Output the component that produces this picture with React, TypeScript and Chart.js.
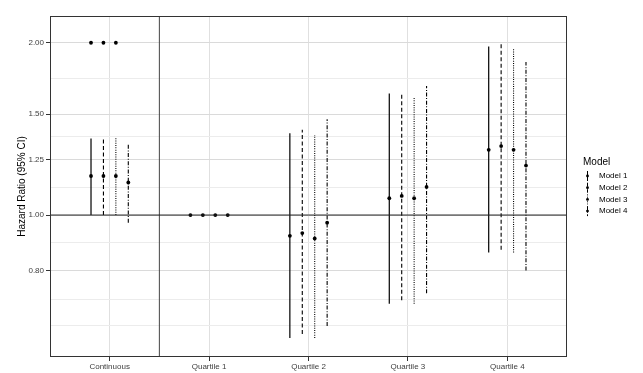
import React, { useEffect, useRef } from 'react';
import { Chart, registerables } from 'chart.js';

Chart.register(...registerables);

// ---------- data ----------
const categories = ['Continuous', 'Quartile 1', 'Quartile 2', 'Quartile 3', 'Quartile 4'];
const models = ['Model 1', 'Model 2', 'Model 3', 'Model 4'];

const hrModel1 = [1.17, 1.0, 0.92, 1.07, 1.3];
const hrModel2 = [1.17, 1.0, 0.93, 1.08, 1.32];
const hrModel3 = [1.17, 1.0, 0.91, 1.07, 1.3];
const hrModel4 = [1.14, 1.0, 0.97, 1.12, 1.22];

const lowerModel1 = [1.0, null, 0.61, 0.7, 0.86];
const lowerModel2 = [1.0, null, 0.62, 0.71, 0.87];
const lowerModel3 = [1.0, null, 0.61, 0.7, 0.86];
const lowerModel4 = [0.97, null, 0.64, 0.73, 0.8];

const upperModel1 = [1.36, null, 1.39, 1.63, 1.97];
const upperModel2 = [1.36, null, 1.41, 1.63, 2.0];
const upperModel3 = [1.37, null, 1.38, 1.61, 1.95];
const upperModel4 = [1.33, null, 1.47, 1.68, 1.85];

// extra points plotted at 2.00 in the "Continuous" group (Model 1-3)
const continuousExtra = [2.0, 2.0, 2.0, null];

const majorTicks = [0.8, 1.0, 1.25, 1.5, 2.0];
const minorTicks = [0.642, 0.713, 0.894, 1.118, 1.369, 1.732];
const yMin = 0.565;
const yMax = 2.227;
const referenceHR = 1.0;
const separatorX = 1.5;

// ---------- styling ----------
const hrSeries = [hrModel1, hrModel2, hrModel3, hrModel4];
const lowerSeries = [lowerModel1, lowerModel2, lowerModel3, lowerModel4];
const upperSeries = [upperModel1, upperModel2, upperModel3, upperModel4];
const dashes: number[][] = [[], [4, 2.5], [1, 1.3], [4, 1.6, 1, 1.6]];
const dodge = 0.125;
const FONT = '"Liberation Sans", Arial, Helvetica, sans-serif';
const majorSet = new Set(majorTicks);

const pos = (ci: number, mi: number) => ci + 1 + (mi - 1.5) * dodge;

const borderPlugin = {
  id: 'panelBorder',
  afterDatasetsDraw(chart: any) {
    const { ctx, chartArea } = chart;
    ctx.save();
    ctx.strokeStyle = '#333333';
    ctx.lineWidth = 1;
    ctx.setLineDash([]);
    const l = Math.round(chartArea.left) + 0.5;
    const t = Math.round(chartArea.top) + 0.5;
    const r = Math.round(chartArea.right) - 0.5;
    const b = Math.round(chartArea.bottom) - 0.5;
    ctx.strokeRect(l, t, r - l, b - t);
    ctx.restore();
  },
};

const legendPlugin = {
  id: 'modelLegend',
  afterDraw(chart: any) {
    const { ctx, chartArea } = chart;
    const x0 = chartArea.right + 16;
    const cy = (chartArea.top + chartArea.bottom) / 2;
    ctx.save();
    ctx.fillStyle = '#000';
    ctx.textBaseline = 'middle';
    ctx.textAlign = 'left';
    ctx.font = `10px ${FONT}`;
    ctx.fillText('Model', x0, cy - 24);
    models.forEach((m, i) => {
      const y = cy - 10.5 + i * 11.7;
      const gx = Math.round(x0 + 4) + 0.5;
      ctx.strokeStyle = '#000';
      ctx.lineWidth = 1;
      ctx.setLineDash(dashes[i]);
      ctx.beginPath();
      ctx.moveTo(gx, y - 5);
      ctx.lineTo(gx, y + 5);
      ctx.stroke();
      ctx.setLineDash([]);
      ctx.beginPath();
      ctx.arc(gx, y, 1.4, 0, Math.PI * 2);
      ctx.fill();
      ctx.font = `8px ${FONT}`;
      ctx.fillText(m, x0 + 16, y);
    });
    ctx.restore();
  },
};

export default function App() {
  const ref = useRef<HTMLCanvasElement | null>(null);

  useEffect(() => {
    document.body.style.margin = '0';
    const canvas = ref.current;
    if (!canvas) return;

    const datasets: any[] = [];

    // reference lines
    datasets.push({
      type: 'scatter',
      data: [
        { x: 0.4, y: referenceHR },
        { x: 5.6, y: referenceHR },
      ],
      showLine: true,
      borderColor: '#222',
      borderWidth: 1,
      pointRadius: 0,
    });
    datasets.push({
      type: 'scatter',
      data: [
        { x: separatorX, y: yMin },
        { x: separatorX, y: yMax },
      ],
      showLine: true,
      borderColor: '#444',
      borderWidth: 1,
      pointRadius: 0,
    });

    // confidence intervals
    models.forEach((m, mi) => {
      const pts: any[] = [];
      categories.forEach((_, ci) => {
        const lo = lowerSeries[mi][ci];
        const hi = upperSeries[mi][ci];
        if (lo == null || hi == null) return;
        const x = pos(ci, mi);
        pts.push({ x, y: lo }, { x, y: hi }, { x, y: null });
      });
      datasets.push({
        type: 'scatter',
        label: m + ' CI',
        data: pts,
        showLine: true,
        spanGaps: false,
        borderColor: '#000',
        borderWidth: mi === 0 ? 1.2 : 1.1,
        borderDash: dashes[mi],
        pointRadius: 0,
      });
    });

    // point estimates
    models.forEach((m, mi) => {
      datasets.push({
        type: 'scatter',
        label: m,
        data: categories.map((_, ci) => ({ x: pos(ci, mi), y: hrSeries[mi][ci] })),
        pointRadius: 1.9,
        pointBackgroundColor: '#000',
        pointBorderWidth: 0,
      });
    });

    datasets.push({
      type: 'scatter',
      label: 'extra',
      data: continuousExtra
        .map((v, mi) => (v == null ? null : { x: pos(0, mi), y: v }))
        .filter(Boolean),
      pointRadius: 1.9,
      pointBackgroundColor: '#000',
      pointBorderWidth: 0,
    });

    const chart = new Chart(canvas, {
      type: 'scatter',
      data: { datasets },
      plugins: [borderPlugin, legendPlugin],
      options: {
        animation: false,
        responsive: false,
        devicePixelRatio: 1,
        layout: { padding: { top: 16, right: 76, left: 0, bottom: 0 } },
        plugins: {
          legend: { display: false },
          tooltip: { enabled: false },
        },
        scales: {
          x: {
            type: 'linear',
            min: 0.4,
            max: 5.6,
            afterBuildTicks: (s: any) => {
              s.ticks = categories.map((_, i) => ({ value: i + 1 }));
            },
            afterFit: (s: any) => {
              s.height = 16;
            },
            ticks: {
              autoSkip: false,
              maxRotation: 0,
              padding: 1,
              color: '#404040',
              font: { family: FONT, size: 8 },
              callback: (_v: any, i: number) => categories[i],
            },
            grid: {
              color: '#e0e0e0',
              lineWidth: 1,
              tickLength: 4,
              tickColor: '#333333',
              drawTicks: true,
            },
            border: { display: false },
          },
          y: {
            type: 'logarithmic',
            min: yMin,
            max: yMax,
            afterBuildTicks: (s: any) => {
              s.ticks = [...majorTicks, ...minorTicks]
                .sort((a, b) => a - b)
                .map((v) => ({ value: v }));
            },
            afterFit: (s: any) => {
              s.width = 50;
            },
            ticks: {
              autoSkip: false,
              padding: 2,
              color: '#404040',
              font: { family: FONT, size: 8 },
              callback: (v: any) => (majorSet.has(v) ? Number(v).toFixed(2) : ''),
            },
            grid: {
              color: (c: any) => (majorSet.has(c.tick?.value) ? '#dadada' : '#ececec'),
              lineWidth: 1,
              tickLength: 4,
              tickColor: (c: any) => (majorSet.has(c.tick?.value) ? '#333333' : 'rgba(0,0,0,0)'),
              drawTicks: true,
            },
            border: { display: false },
            title: {
              display: true,
              text: 'Hazard Ratio (95% CI)',
              color: '#000',
              font: { family: FONT, size: 10 },
              padding: { top: 16, bottom: 0 },
            },
          },
        },
      } as any,
    });

    return () => chart.destroy();
  }, []);

  return (
    <div style={{ width: 643, height: 373 }}>
      <canvas ref={ref} width={643} height={373} style={{ display: 'block' }} />
    </div>
  );
}
